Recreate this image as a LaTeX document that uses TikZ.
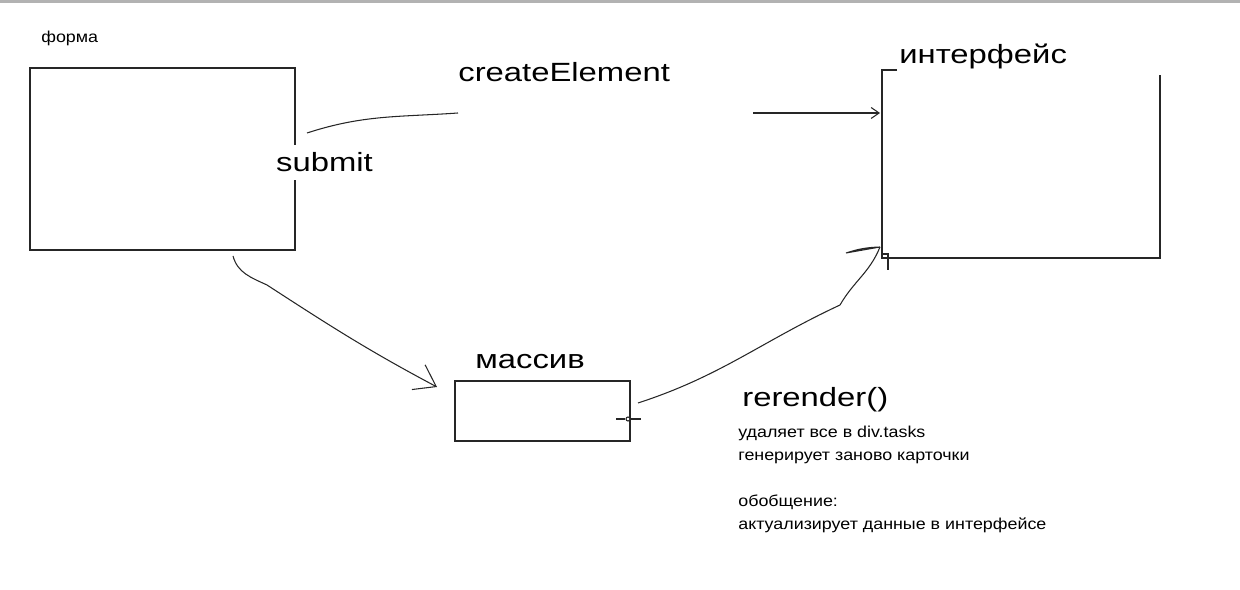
\documentclass[tikz,border=0pt]{standalone}
\usepackage{fontspec}
\setmainfont{Liberation Sans}[FakeStretch=1.245]
\newfontfamily\smallfont{Liberation Sans}[FakeStretch=1.13]
\usetikzlibrary{arrows.meta}
\begin{document}
\begin{tikzpicture}[x=0.02cm,y=0.02cm,
   sketch/.style={draw=black!85, line width=0.6pt},
   bigtext/.style={inner sep=0pt, font=\fontsize{15}{18}\selectfont},
   smalltext/.style={inner sep=0pt, font=\smallfont\fontsize{9}{13}\selectfont}]

   \useasboundingbox (0,0) rectangle (1240,-590);
   \draw [gray!60, line width=2pt] (0,-1) -- (1240,-1);

        %Box forma
          \node [smalltext, anchor=base west] (formlabel) at (41,-43) {форма};
          \node [sketch, minimum width=5.3cm, minimum height=3.64cm, inner sep=0pt] (form) at (162.5,-159) {};
          \node [bigtext, fill=white, inner xsep=1pt, inner ysep=0.15cm, anchor=base west] (submit) at (274,-172) {submit};

        %Box interface
          \node [bigtext, anchor=base west] (iface) at (899,-64) {интерфейс};
          \draw [sketch] (897,-70) -- (882,-70) -- (882,-258) -- (1160,-258) -- (1160,-75);
          \draw [sketch] (882,-254) -- (888,-254) -- (888,-270);

        %Box massiv
          \node [bigtext, anchor=base west] (arrlabel) at (475,-369) {массив};
          \node [sketch, minimum width=3.5cm, minimum height=1.2cm, inner sep=0pt] (arr) at (542.5,-411) {};
          \node [sketch, fill=white, circle, inner sep=0pt, minimum size=0.08cm] (knob) at (628,-419) {};
          \draw [sketch] (knob.west) -- ++(-9,0);
          \draw [sketch] (knob.east) -- ++(10,0);

          \node [bigtext, anchor=base west] (rerender) at (742,-407) {rerender()};
          \node [smalltext, anchor=north west, align=left] (note) at (738,-426)
             {удаляет все в div.tasks\\генерирует заново карточки\\[13pt]обобщение:\\актуализирует данные в интерфейсе};

        %Traits et fleches
          \coordinate (s1) at (307,-133);
          \coordinate (s2) at (458,-113);
          \coordinate (c1) at (753,-113);
          \coordinate (c2) at (880,-113);
          \node [bigtext, anchor=base west] (ce) at (458,-82) {createElement};
        \draw [sketch] (s1) to[out=18,in=184] (s2);
        \draw [sketch, -{Straight Barb[length=1.6mm,width=2.2mm]}] (c1) -- (c2);

          \coordinate (f1) at (233,-256);
          \coordinate (f2) at (267,-285);
          \coordinate (f3) at (437,-387);
        \draw [sketch, -{Straight Barb[length=4mm,width=5.6mm]}] (f1) to[out=-75,in=155] (f2) to[out=-33,in=152] (f3);

          \coordinate (m1) at (638,-403);
          \coordinate (m2) at (840,-305);
          \coordinate (m3) at (880,-247);
        \draw [sketch] (m1) to[out=18,in=205] (m2) to[out=60,in=248] (m3);
        \draw [sketch] (m3) -- ++(-34,-6) to[bend left=8] (m3);
\end{tikzpicture}
\end{document}
